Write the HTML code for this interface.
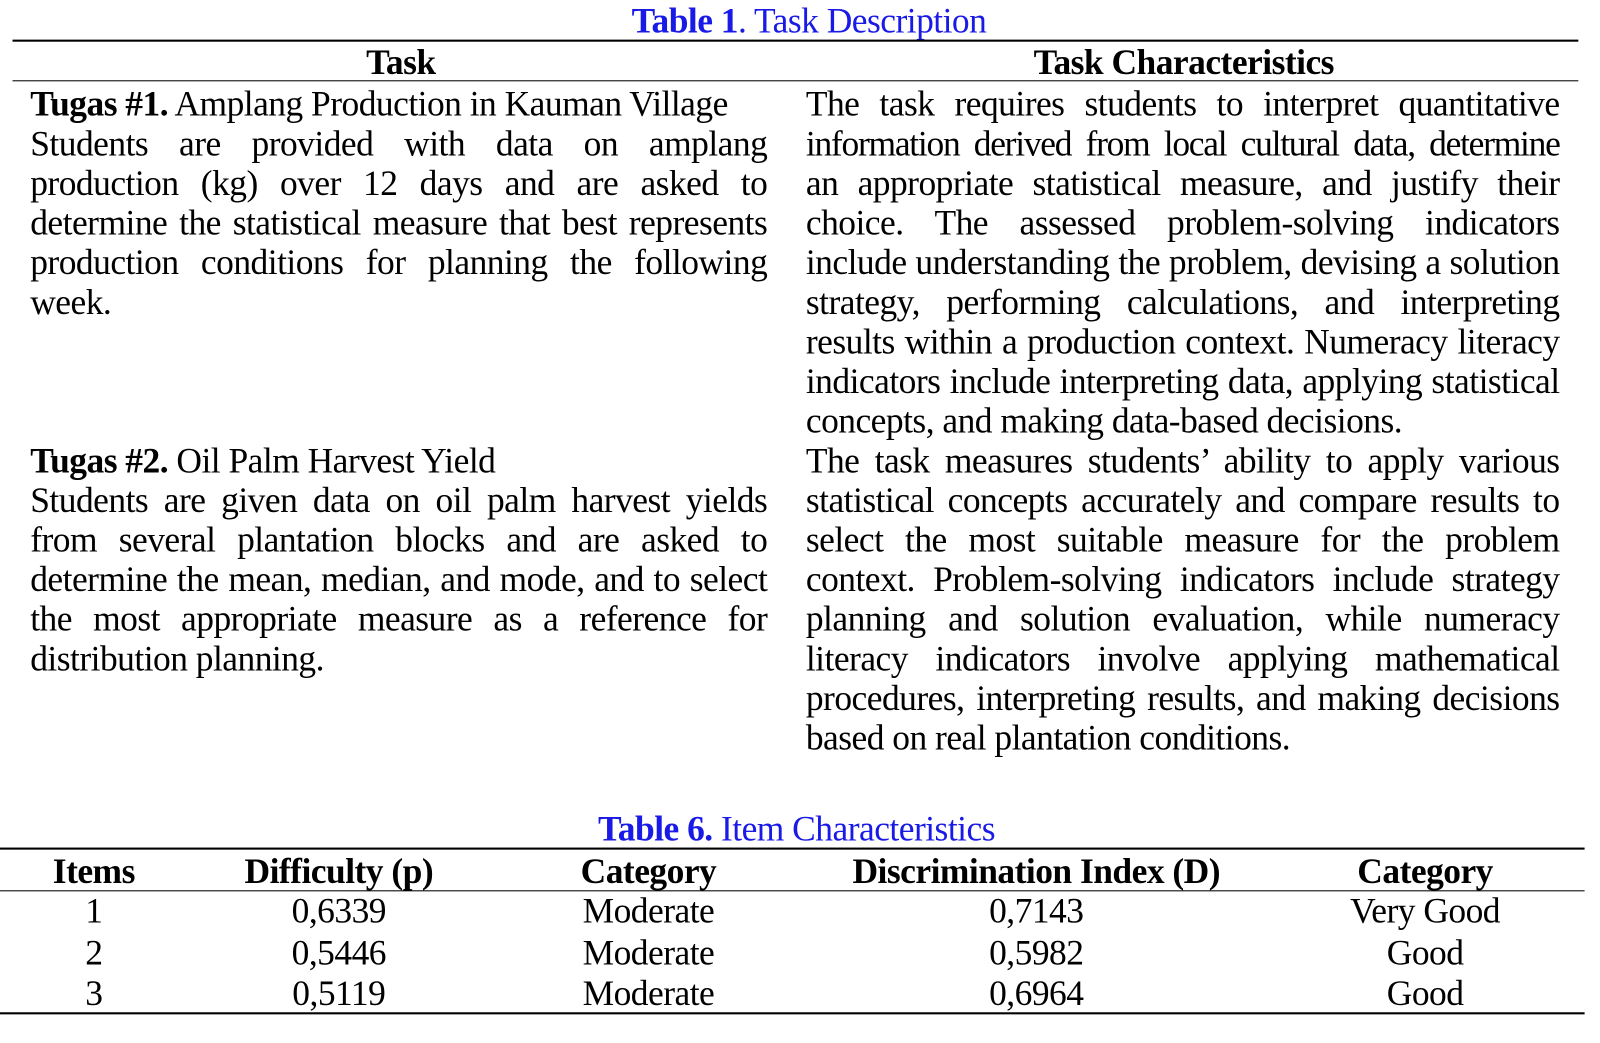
<!DOCTYPE html>
<html><head><meta charset="utf-8"><style>
body{margin:0;width:1600px;height:1036px;background:#fff;position:relative;overflow:hidden}
#w{position:absolute;left:0;top:0;width:1540px;height:1000px;transform:scale(1.0425);transform-origin:0 0;font-family:"Liberation Serif",serif;font-size:34px;letter-spacing:-0.5px;color:#000}
.l{position:absolute;line-height:39px;white-space:nowrap}
.j{text-align:justify;text-align-last:justify;white-space:normal}
.c{text-align:center}
.hr{position:absolute;height:2px;background:#000}
.blue{color:#1a1ae6}
b{font-weight:bold}
</style></head><body><div id="w">
<div class="l c" style="left:0;width:1552px;top:1px"><span class="blue"><b>Table 1</b>. Task Description</span></div>
<div class="hr" style="left:12px;width:1502px;top:38px"></div>
<div class="l c" style="left:12px;width:745px;top:41px"><b>Task</b></div>
<div class="l c" style="left:757px;width:757px;top:41px"><b>Task Characteristics</b></div>
<div class="hr" style="left:12px;width:1502px;top:77px;height:1px"></div>

<div class="l" style="left:29px;top:81px"><b>Tugas #1.</b> Amplang Production in Kauman Village</div>
<div class="l j" style="left:29px;width:707px;top:119px">Students are provided with data on amplang</div>
<div class="l j" style="left:29px;width:707px;top:157px">production (kg) over 12 days and are asked to</div>
<div class="l j" style="left:29px;width:707px;top:195px">determine the statistical measure that best represents</div>
<div class="l j" style="left:29px;width:707px;top:233px">production conditions for planning the following</div>
<div class="l" style="left:29px;top:271px">week.</div>

<div class="l j" style="left:773px;width:723px;top:81px">The task requires students to interpret quantitative</div>
<div class="l j" style="left:773px;width:723px;top:119px;letter-spacing:-1.2px">information derived from local cultural data, determine</div>
<div class="l j" style="left:773px;width:723px;top:157px">an appropriate statistical measure, and justify their</div>
<div class="l j" style="left:773px;width:723px;top:195px">choice. The assessed problem-solving indicators</div>
<div class="l j" style="left:773px;width:723px;top:233px">include understanding the problem, devising a solution</div>
<div class="l j" style="left:773px;width:723px;top:271px">strategy, performing calculations, and interpreting</div>
<div class="l j" style="left:773px;width:723px;top:309px">results within a production context. Numeracy literacy</div>
<div class="l j" style="left:773px;width:723px;top:347px">indicators include interpreting data, applying statistical</div>
<div class="l" style="left:773px;top:385px">concepts, and making data-based decisions.</div>

<div class="l" style="left:29px;top:423px"><b>Tugas #2.</b> Oil Palm Harvest Yield</div>
<div class="l j" style="left:29px;width:707px;top:461px">Students are given data on oil palm harvest yields</div>
<div class="l j" style="left:29px;width:707px;top:499px">from several plantation blocks and are asked to</div>
<div class="l j" style="left:29px;width:707px;top:537px">determine the mean, median, and mode, and to select</div>
<div class="l j" style="left:29px;width:707px;top:575px">the most appropriate measure as a reference for</div>
<div class="l" style="left:29px;top:613px">distribution planning.</div>

<div class="l j" style="left:773px;width:723px;top:423px">The task measures students’ ability to apply various</div>
<div class="l j" style="left:773px;width:723px;top:461px">statistical concepts accurately and compare results to</div>
<div class="l j" style="left:773px;width:723px;top:499px">select the most suitable measure for the problem</div>
<div class="l j" style="left:773px;width:723px;top:537px">context. Problem-solving indicators include strategy</div>
<div class="l j" style="left:773px;width:723px;top:575px">planning and solution evaluation, while numeracy</div>
<div class="l j" style="left:773px;width:723px;top:613px">literacy indicators involve applying mathematical</div>
<div class="l j" style="left:773px;width:723px;top:651px">procedures, interpreting results, and making decisions</div>
<div class="l" style="left:773px;top:689px">based on real plantation conditions.</div>

<div class="l c" style="left:0;width:1528px;top:776px"><span class="blue"><b>Table 6.</b> Item Characteristics</span></div>
<div class="hr" style="left:0;width:1520px;top:813px"></div>
<div class="l c" style="left:0;width:180px;top:817px"><b>Items</b></div>
<div class="l c" style="left:178px;width:294px;top:817px"><b>Difficulty (p)</b></div>
<div class="l c" style="left:475px;width:294px;top:817px"><b>Category</b></div>
<div class="l c" style="left:798px;width:392px;top:817px"><b>Discrimination Index (D)</b></div>
<div class="l c" style="left:1220px;width:294px;top:817px"><b>Category</b></div>
<div class="hr" style="left:0;width:1520px;top:854px;height:1px"></div>

<div class="l c" style="left:0;width:180px;top:855px">1</div>
<div class="l c" style="left:178px;width:294px;top:855px">0,6339</div>
<div class="l c" style="left:475px;width:294px;top:855px">Moderate</div>
<div class="l c" style="left:798px;width:392px;top:855px">0,7143</div>
<div class="l c" style="left:1220px;width:294px;top:855px">Very Good</div>

<div class="l c" style="left:0;width:180px;top:895px">2</div>
<div class="l c" style="left:178px;width:294px;top:895px">0,5446</div>
<div class="l c" style="left:475px;width:294px;top:895px">Moderate</div>
<div class="l c" style="left:798px;width:392px;top:895px">0,5982</div>
<div class="l c" style="left:1220px;width:294px;top:895px">Good</div>

<div class="l c" style="left:0;width:180px;top:934px">3</div>
<div class="l c" style="left:178px;width:294px;top:934px">0,5119</div>
<div class="l c" style="left:475px;width:294px;top:934px">Moderate</div>
<div class="l c" style="left:798px;width:392px;top:934px">0,6964</div>
<div class="l c" style="left:1220px;width:294px;top:934px">Good</div>
<div class="hr" style="left:0;width:1520px;top:971px"></div>
</div></body></html>
